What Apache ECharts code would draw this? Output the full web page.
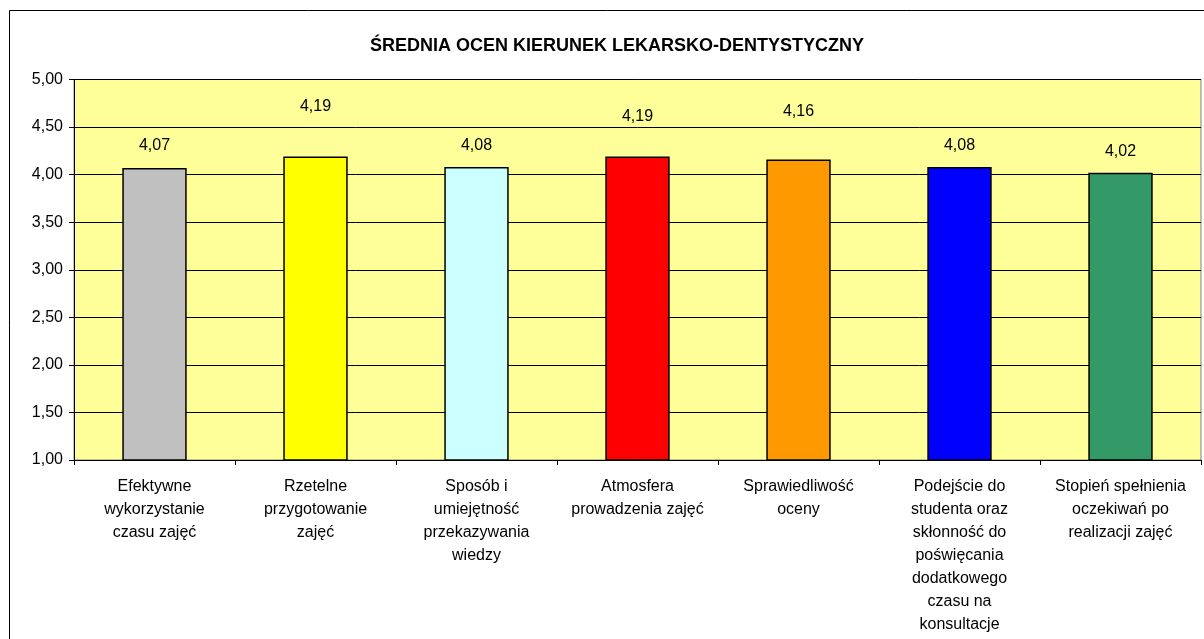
<!DOCTYPE html>
<html>
<head>
<meta charset="utf-8">
<script src="https://cdn.jsdelivr.net/npm/echarts@6/dist/echarts.min.js"></script>
<style>
  html, body { margin: 0; padding: 0; background: #fff; }
  #chart { width: 1204px; height: 639px; }
</style>
</head>
<body>
<div id="chart"></div>
<script>
const chartTitle = "ŚREDNIA OCEN KIERUNEK LEKARSKO-DENTYSTYCZNY";

const categories = [
  "Efektywne\nwykorzystanie\nczasu zajęć",
  "Rzetelne\nprzygotowanie\nzajęć",
  "Sposób i\numiejętność\nprzekazywania\nwiedzy",
  "Atmosfera\nprowadzenia zajęć",
  "Sprawiedliwość\noceny",
  "Podejście do\nstudenta oraz\nskłonność do\npoświęcania\ndodatkowego\nczasu na\nkonsultacje",
  "Stopień spełnienia\noczekiwań po\nrealizacji zajęć",
];

const averages = [4.07, 4.19, 4.08, 4.19, 4.16, 4.08, 4.02];

const yTicks = { min: 1, max: 5, interval: 0.5 };

// styling only
const barColors = ["#C0C0C0", "#FFFF00", "#CCFFFF", "#FF0000", "#FF9900", "#0000FF", "#339966"];
const labelGaps = [14, 42, 13, 32, 40, 13, 13]; // excel placed the labels unevenly

const fmt = (v) => v.toFixed(2).replace(".", ",");
const font = "Arial, 'Liberation Sans', sans-serif";

const chart = echarts.init(document.getElementById("chart"));

chart.setOption({
  animation: false,
  textStyle: { fontFamily: font },
  title: {
    text: chartTitle,
    left: 612,
    top: 32,
    textAlign: "center",
    textStyle: { fontSize: 18, fontWeight: "bold", color: "#000", fontFamily: font },
  },
  graphic: [
    {
      type: "rect",
      shape: { x: 9.5, y: 10.5, width: 1210, height: 650 },
      style: { fill: "none", stroke: "#000", lineWidth: 1 },
      silent: true,
      z: 0,
    },
  ],
  grid: {
    left: 74,
    right: 3,
    top: 79.5,
    bottom: 179,
    show: true,
    backgroundColor: "#FFFF99",
    borderColor: "#808080",
    borderWidth: 1,
  },
  xAxis: {
    type: "category",
    data: categories,
    axisLine: { lineStyle: { color: "#000", width: 1 } },
    axisTick: { show: true, alignWithLabel: false, length: 5, lineStyle: { color: "#000" } },
    axisLabel: {
      interval: 0,
      margin: 15,
      fontSize: 16,
      lineHeight: 23,
      color: "#000",
      align: "center",
    },
  },
  yAxis: {
    type: "value",
    min: yTicks.min,
    max: yTicks.max,
    interval: yTicks.interval,
    axisLine: { show: true, lineStyle: { color: "#000", width: 1 } },
    axisTick: { show: true, length: 5, lineStyle: { color: "#000" } },
    axisLabel: { formatter: fmt, fontSize: 16, color: "#000", margin: 11 },
    splitLine: { show: true, lineStyle: { color: "#000", width: 1 } },
  },
  series: [
    {
      type: "bar",
      barWidth: "40%",
      data: averages.map((v, i) => ({
        value: v,
        itemStyle: { color: barColors[i] },
        label: { distance: labelGaps[i] },
      })),
      itemStyle: { borderColor: "#000", borderWidth: 1.5 },
      label: {
        show: true,
        position: "top",
        formatter: (p) => fmt(p.value),
        fontSize: 16,
        color: "#000",
      },
    },
  ],
});

window.addEventListener("resize", () => chart.resize());
</script>
</body>
</html>
